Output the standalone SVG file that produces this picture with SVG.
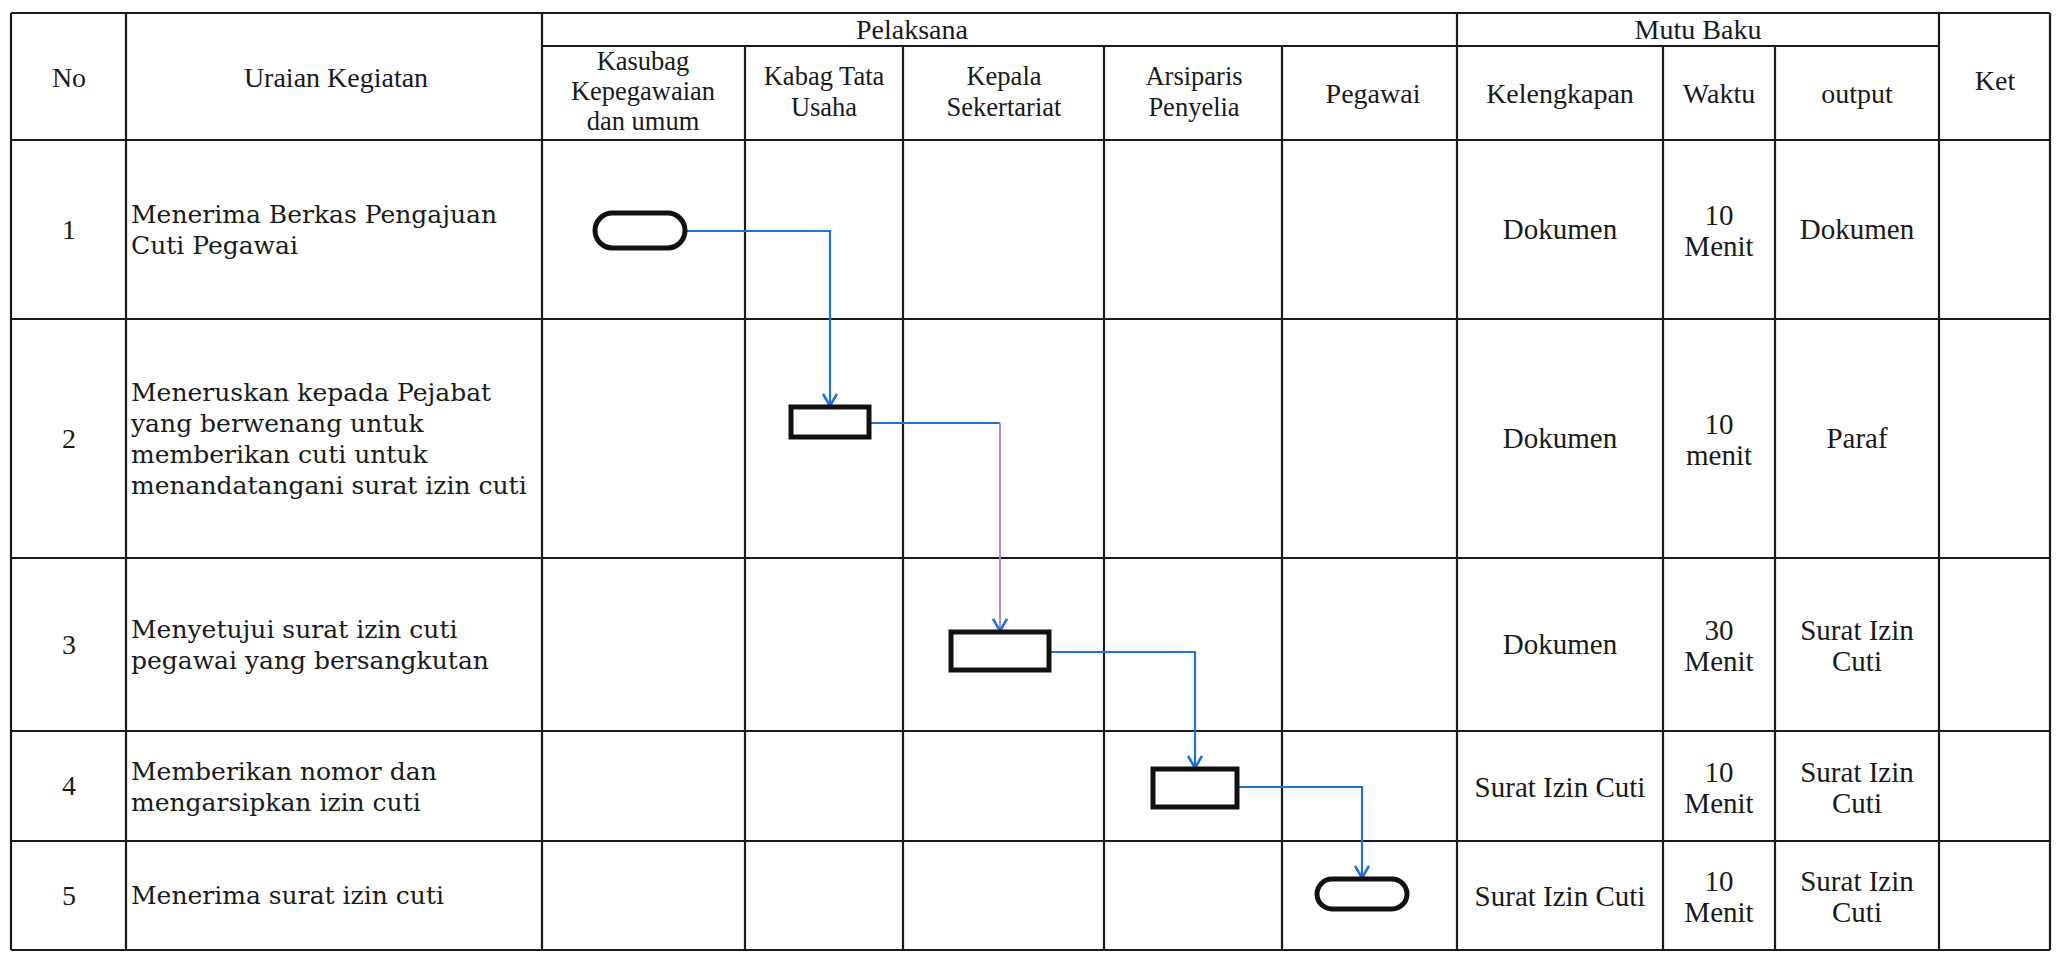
<svg xmlns="http://www.w3.org/2000/svg" width="2060" height="954" viewBox="0 0 2060 954">
<style>
.grid{stroke:#1a1a1a;stroke-width:2.2;fill:none}
.hd{font-family:"Liberation Serif",serif;font-size:28px;fill:#1a1a1a;text-anchor:middle}
.hs{font-family:"Liberation Serif",serif;font-size:26.5px;fill:#1a1a1a;text-anchor:middle}
.cell{font-family:"Liberation Serif",serif;font-size:29px;fill:#1a1a1a;text-anchor:middle}
.num{font-family:"Liberation Serif",serif;font-size:28px;fill:#1a1a1a;text-anchor:middle}
.desc{font-family:"DejaVu Serif",serif;font-size:25px;fill:#1a1a1a}
.shape{fill:#fff;stroke:#111;stroke-width:5}
.conn{fill:none;stroke:#1f72d6;stroke-width:2.2}
.conn2{fill:none;stroke:#a57fe0;stroke-width:1.8}
</style>
<defs>
<marker id="arr" markerUnits="userSpaceOnUse" viewBox="0 0 14 16" refX="13" refY="8" markerWidth="14" markerHeight="16" orient="auto">
<path d="M1,1 L13,8 L1,15" fill="none" stroke="#1f72d6" stroke-width="2.6"/>
</marker>
</defs>
<rect width="2060" height="954" fill="#fff"/>
<g id="grid" class="grid">
<path d="M11,13 H2050 M542,46 H1939 M11,140 H2050 M11,319 H2050 M11,558 H2050 M11,731 H2050 M11,841 H2050 M11,950 H2050"/>
<path d="M11,13 V950 M126,13 V950 M542,13 V950 M745,46 V950 M903,46 V950 M1104,46 V950 M1282,46 V950 M1457,13 V950 M1663,46 V950 M1775,46 V950 M1939,13 V950 M2050,13 V950"/>
</g>
<g id="header">
<text class="hd" x="69" y="87">No</text>
<text class="hd" x="336" y="87">Uraian Kegiatan</text>
<text class="hd" x="912" y="39">Pelaksana</text>
<text class="hd" x="1698" y="39">Mutu Baku</text>
<text class="hd" x="1995" y="90">Ket</text>
<text class="hs" x="643" y="70">Kasubag</text>
<text class="hs" x="643" y="100">Kepegawaian</text>
<text class="hs" x="643" y="130">dan umum</text>
<text class="hs" x="824" y="85">Kabag Tata</text>
<text class="hs" x="824" y="116">Usaha</text>
<text class="hs" x="1004" y="85">Kepala</text>
<text class="hs" x="1004" y="116">Sekertariat</text>
<text class="hs" x="1194" y="85">Arsiparis</text>
<text class="hs" x="1194" y="116">Penyelia</text>
<text class="hd" x="1373" y="103">Pegawai</text>
<text class="hd" x="1560" y="103">Kelengkapan</text>
<text class="hd" x="1719" y="103">Waktu</text>
<text class="hd" x="1857" y="103">output</text>
</g>
<g id="row1">
<text class="num" x="69" y="239">1</text>
<text class="desc" x="131" y="223">Menerima Berkas Pengajuan</text>
<text class="desc" x="131" y="254">Cuti Pegawai</text>
<text class="cell" x="1560" y="239">Dokumen</text>
<text class="cell" x="1719" y="225">10</text>
<text class="cell" x="1719" y="256">Menit</text>
<text class="cell" x="1857" y="239">Dokumen</text>
</g>
<g id="row2">
<text class="num" x="69" y="448">2</text>
<text class="desc" x="131" y="401">Meneruskan kepada Pejabat</text>
<text class="desc" x="131" y="432">yang berwenang untuk</text>
<text class="desc" x="131" y="463">memberikan cuti untuk</text>
<text class="desc" x="131" y="494">menandatangani surat izin cuti</text>
<text class="cell" x="1560" y="448">Dokumen</text>
<text class="cell" x="1719" y="434">10</text>
<text class="cell" x="1719" y="465">menit</text>
<text class="cell" x="1857" y="448">Paraf</text>
</g>
<g id="row3">
<text class="num" x="69" y="654">3</text>
<text class="desc" x="131" y="638">Menyetujui surat izin cuti</text>
<text class="desc" x="131" y="669">pegawai yang bersangkutan</text>
<text class="cell" x="1560" y="654">Dokumen</text>
<text class="cell" x="1719" y="640">30</text>
<text class="cell" x="1719" y="671">Menit</text>
<text class="cell" x="1857" y="640">Surat Izin</text>
<text class="cell" x="1857" y="671">Cuti</text>
</g>
<g id="row4">
<text class="num" x="69" y="795">4</text>
<text class="desc" x="131" y="780">Memberikan nomor dan</text>
<text class="desc" x="131" y="811">mengarsipkan izin cuti</text>
<text class="cell" x="1560" y="797">Surat Izin Cuti</text>
<text class="cell" x="1719" y="782">10</text>
<text class="cell" x="1719" y="813">Menit</text>
<text class="cell" x="1857" y="782">Surat Izin</text>
<text class="cell" x="1857" y="813">Cuti</text>
</g>
<g id="row5">
<text class="num" x="69" y="905">5</text>
<text class="desc" x="131" y="904">Menerima surat izin cuti</text>
<text class="cell" x="1560" y="906">Surat Izin Cuti</text>
<text class="cell" x="1719" y="891">10</text>
<text class="cell" x="1719" y="922">Menit</text>
<text class="cell" x="1857" y="891">Surat Izin</text>
<text class="cell" x="1857" y="922">Cuti</text>
</g>
<g id="connectors">
<path class="conn" d="M685,231 H830 V406" marker-end="url(#arr)"/>
<path class="conn" d="M869,423 H1000"/>
<path class="conn2" d="M1000,423 V631" marker-end="url(#arr)"/>
<path class="conn" d="M1049,652 H1195 V768" marker-end="url(#arr)"/>
<path class="conn" d="M1237,787 H1362 V878" marker-end="url(#arr)"/>
</g>
<g id="node-start">
<rect class="shape" x="595" y="213" width="90" height="35" rx="17.5"/>
</g>
<g id="node-kabag">
<rect class="shape" x="791" y="407" width="78" height="30"/>
</g>
<g id="node-kepala">
<rect class="shape" x="951" y="632" width="98" height="38"/>
</g>
<g id="node-arsiparis">
<rect class="shape" x="1153" y="769" width="84" height="38"/>
</g>
<g id="node-end">
<rect class="shape" x="1317" y="879" width="90" height="30" rx="15"/>
</g>
</svg>
